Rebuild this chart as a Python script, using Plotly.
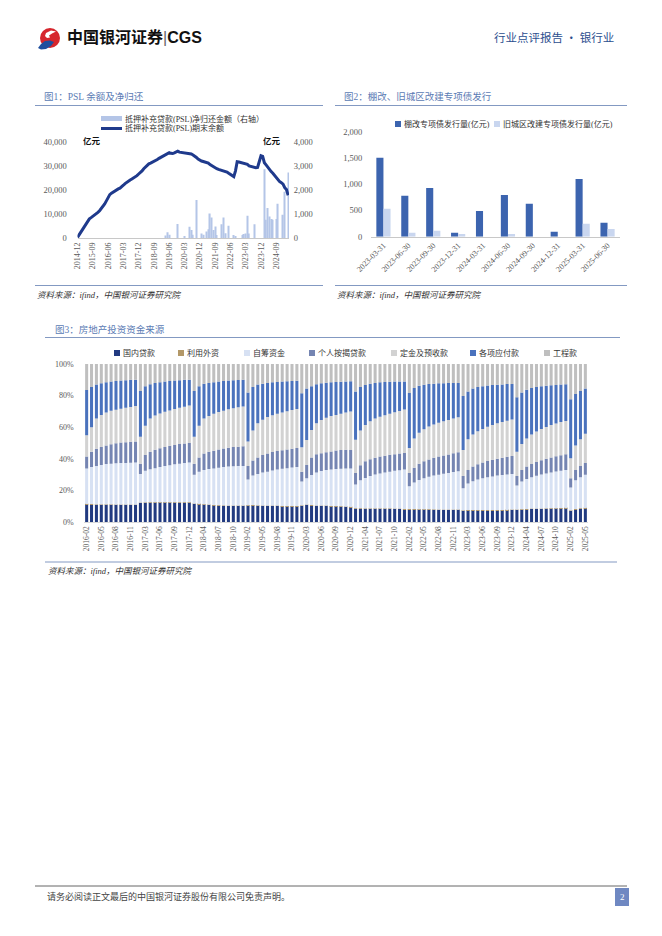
import numpy as np
import plotly.graph_objects as go

W, H = 662, 936
def X(p): return p / W
def Y(p): return 1 - p / H

FONT = "Liberation Serif, Noto Sans CJK SC, serif"
SANS = "Liberation Sans, Noto Sans CJK SC, sans-serif"
GRAY = "#595959"
TITLE_C = "#5B7BB4"
RULE_C = "#8399C2"

# ---------------- Chart 1: PSL ----------------
psl_months = ["2014-12"] + [f"{y}-{m:02d}" for y in range(2015, 2026) for m in range(1, 13)][:124]
psl_balance = [
    400,
    1500, 2700, 3900, 5000, 6200, 7500, 8100, 8600, 9100, 9500, 10000, 10800,
    11500, 12300, 13200, 14300, 15600, 17300, 18200, 18800, 19300, 19700, 20100, 20600,
    20900, 21400, 22100, 22800, 23400, 23900, 24300, 24700, 25100, 25600, 26100, 26800,
    27300, 28100, 29000, 29800, 30500, 31000, 31300, 31600, 32000, 32400, 32800, 33300,
    33700, 34300, 34800, 35200, 35500, 35700, 35400, 35300, 35600, 36100, 36300, 35900,
    35800, 35900, 35800, 35700, 35600, 35400, 35100, 34700, 34300, 33700, 33000, 32400,
    32200, 32000, 31800, 31600, 31300, 30700, 30200, 29800, 29400, 29000, 28700, 28500,
    28400, 28200, 28000, 27600, 27100, 26700, 26200, 25700, 28100, 31900, 31800, 31600,
    31500, 31400, 31300, 30800, 30200, 30000, 29700, 29500, 29400, 29500, 31600, 34400,
    34100, 31500, 30600, 29500, 28600, 27800, 27100, 26200, 25300, 24000, 23600, 23200,
    22600, 21100, 20300, 17900,
]
psl_repay_months = [
    "2019-04", "2019-05", "2019-06", "2019-11", "2020-03", "2020-06", "2020-07", "2020-08",
    "2020-10", "2021-01", "2021-02", "2021-04", "2021-05", "2021-06", "2021-07", "2021-08",
    "2021-09", "2021-10", "2022-01", "2022-02", "2022-03", "2022-05", "2022-08", "2022-09",
    "2023-01", "2023-02", "2023-03", "2023-04", "2023-05", "2023-08", "2024-02", "2024-03",
    "2024-04", "2024-05", "2024-06", "2024-07", "2024-09", "2024-10", "2025-01", "2025-02",
    "2025-04",
]
psl_repay_values = [
    120, 250, 150, 600, 100, 480, 350, 150,
    1600, 200, 150, 280, 380, 1030, 870, 350,
    490, 140, 590, 870, 210, 520, 140, 100,
    140, 180, 200, 940, 200, 590, 2880, 770,
    1260, 910, 800, 770, 800, 1440, 980, 1940,
    2740,
]
psl_ticks = psl_months[::9]

# ---------------- Chart 2: special bonds ----------------
quarters = ["2023-03-31", "2023-06-30", "2023-09-30", "2023-12-31", "2024-03-31",
            "2024-06-30", "2024-09-30", "2024-12-31", "2025-03-31", "2025-06-30"]
penggai = [1505, 781, 927, 76, 489, 794, 629, 95, 1098, 267]
jiucheng = [533, 76, 114, 50, 0, 50, 0, 0, 248, 146]

# ---------------- Chart 3: funding sources (share, %) ----------------
months3 = [f"{y}-{m:02d}" for y in range(2016, 2025) for m in range(2, 13)] + \
          ["2025-02", "2025-03", "2025-04", "2025-05"]
domestic_loans = [
    11.5, 11.5, 11.2, 11.2, 11.1, 11.1, 11.0, 11.0, 11.0, 11.0, 11.0,
    12.3, 12.4, 12.5, 12.5, 12.6, 12.6, 12.6, 12.6, 12.6, 12.6, 12.6,
    11.6, 11.5, 11.3, 11.0, 10.8, 10.6, 10.5, 10.4, 10.3, 10.3, 10.3,
    10.6, 10.8, 10.5, 10.4, 10.3, 10.3, 10.3, 10.2, 10.2, 10.2, 10.2,
    10.5, 11.0, 10.8, 10.4, 10.3, 10.3, 10.2, 10.2, 10.0, 9.8, 9.6,
    8.8, 8.7, 8.6, 8.6, 8.6, 8.6, 8.6, 8.6, 8.5, 8.4, 8.3,
    8.3, 8.3, 8.2, 8.2, 8.1, 8.0, 7.9, 7.8, 7.8, 7.8, 7.9,
    7.3, 7.6, 7.6, 7.6, 7.6, 7.6, 7.6, 7.6, 7.6, 7.7, 7.8,
    7.8, 8.1, 8.3, 8.4, 8.5, 8.5, 8.6, 8.7, 8.8, 8.9, 9.0,
    7.4, 8.3, 8.7, 9.0,
]
foreign_capital = [
    0.1, 0.1, 0.1, 0.1, 0.1, 0.1, 0.1, 0.1, 0.1, 0.1, 0.1,
    0.1, 0.1, 0.1, 0.1, 0.1, 0.1, 0.1, 0.1, 0.1, 0.1, 0.1,
    0.1, 0.1, 0.1, 0.1, 0.1, 0.1, 0.1, 0.1, 0.1, 0.1, 0.1,
    0.1, 0.1, 0.1, 0.1, 0.1, 0.1, 0.1, 0.1, 0.1, 0.1, 0.1,
    0.1, 0.1, 0.1, 0.1, 0.1, 0.1, 0.1, 0.1, 0.1, 0.1, 0.1,
    0.1, 0.1, 0.1, 0.1, 0.1, 0.1, 0.1, 0.1, 0.1, 0.1, 0.1,
    0.1, 0.1, 0.1, 0.1, 0.1, 0.1, 0.1, 0.1, 0.1, 0.1, 0.1,
    0.1, 0.1, 0.1, 0.1, 0.1, 0.1, 0.1, 0.1, 0.1, 0.1, 0.1,
    0.1, 0.1, 0.1, 0.1, 0.1, 0.1, 0.1, 0.1, 0.1, 0.1, 0.1,
    0.1, 0.1, 0.1, 0.1,
]
self_raised = [
    22.4, 23.4, 24.2, 24.9, 25.6, 25.8, 26.2, 26.4, 26.4, 26.5, 26.7,
    18.1, 20.0, 20.9, 21.6, 22.3, 22.9, 23.4, 23.9, 24.3, 24.7, 25.1,
    18.3, 20.4, 21.6, 22.5, 23.1, 23.8, 24.3, 24.7, 25.0, 25.1, 25.2,
    16.3, 18.6, 19.9, 21.0, 21.6, 22.4, 23.0, 23.5, 23.9, 24.3, 24.7,
    15.1, 16.7, 19.0, 20.9, 22.0, 22.6, 23.1, 23.4, 23.8, 24.1, 24.3,
    14.9, 17.7, 19.3, 20.5, 21.5, 22.2, 22.8, 23.3, 23.9, 24.4, 24.9,
    14.3, 16.8, 18.5, 19.5, 20.5, 21.4, 22.1, 22.7, 23.3, 23.8, 24.2,
    14.1, 16.8, 18.3, 19.3, 20.1, 20.8, 21.3, 21.8, 22.2, 22.4, 22.6,
    15.3, 17.6, 18.9, 19.9, 20.8, 21.6, 22.2, 22.7, 23.2, 23.6, 24.0,
    14.5, 18.1, 19.7, 20.9,
]
mortgage_loans = [
    7.5, 9.5, 11.0, 11.3, 11.7, 12.3, 12.7, 12.9, 13.1, 13.3, 13.2,
    6.5, 10.0, 11.0, 11.6, 11.8, 12.0, 12.2, 12.3, 12.4, 12.4, 12.3,
    7.0, 9.0, 10.5, 10.9, 11.2, 11.5, 11.7, 11.9, 12.1, 12.2, 12.4,
    8.5, 9.5, 10.5, 11.0, 11.5, 11.6, 11.6, 11.7, 11.8, 11.9, 12.0,
    6.3, 8.4, 11.1, 11.6, 11.2, 11.2, 11.4, 11.6, 11.7, 11.8, 11.6,
    7.4, 9.5, 10.5, 10.6, 10.6, 10.6, 10.6, 10.6, 10.5, 10.5, 10.5,
    8.5, 9.3, 10.2, 10.7, 11.0, 11.2, 11.4, 11.6, 11.7, 11.9, 12.0,
    7.8, 8.5, 9.3, 9.7, 10.0, 10.2, 10.5, 10.7, 10.9, 11.2, 11.4,
    6.1, 7.2, 7.9, 8.4, 8.7, 9.0, 9.2, 9.4, 9.6, 9.8, 9.9,
    5.8, 6.5, 7.0, 7.5,
]
deposits_advances = [
    13.5, 15.5, 19.0, 20.3, 20.8, 21.1, 21.1, 21.4, 21.8, 22.0, 22.5,
    17.0, 18.5, 21.0, 21.7, 22.0, 22.2, 22.4, 22.6, 22.9, 23.2, 23.7,
    17.0, 20.0, 22.0, 22.7, 23.4, 23.6, 23.9, 24.3, 24.5, 24.9, 25.2,
    15.5, 19.0, 21.5, 22.3, 23.0, 23.2, 23.6, 23.9, 24.1, 24.4, 24.6,
    15.4, 15.8, 17.3, 19.5, 21.0, 21.8, 22.4, 22.5, 23.0, 23.5, 24.4,
    21.0, 22.0, 23.0, 24.0, 24.7, 25.1, 25.5, 26.0, 26.5, 26.9, 27.4,
    15.7, 18.5, 19.5, 20.3, 20.8, 21.1, 21.4, 21.6, 21.8, 21.9, 22.1,
    16.4, 19.5, 20.2, 20.8, 21.2, 21.6, 22.0, 22.3, 22.6, 22.8, 23.1,
    15.2, 16.5, 17.8, 18.7, 19.3, 19.7, 20.1, 20.5, 20.7, 20.9, 21.0,
    12.6, 15.5, 17.0, 18.5,
]
payables = [
    28.5, 25.5, 21.5, 20.0, 19.1, 18.5, 18.2, 17.7, 17.4, 17.1, 16.6,
    29.0, 25.0, 21.7, 20.5, 19.7, 19.2, 18.6, 18.1, 17.5, 17.0, 16.3,
    29.0, 25.0, 22.0, 20.8, 19.9, 19.3, 18.7, 18.1, 17.7, 17.3, 16.8,
    31.0, 27.5, 24.5, 22.7, 21.5, 20.8, 20.0, 19.5, 19.0, 18.4, 17.8,
    34.1, 32.6, 27.7, 24.7, 23.2, 22.2, 21.2, 20.8, 20.2, 19.7, 19.1,
    30.5, 27.5, 25.3, 23.7, 22.5, 21.8, 21.0, 20.2, 19.4, 18.7, 17.8,
    34.8, 31.8, 29.7, 28.1, 26.8, 25.8, 24.9, 24.1, 23.3, 22.5, 21.7,
    34.1, 30.2, 29.0, 28.0, 27.0, 26.1, 25.2, 24.4, 23.7, 23.1, 22.4,
    34.5, 32.5, 30.8, 29.3, 28.0, 27.0, 26.1, 25.2, 24.4, 23.7, 23.2,
    37.3, 32.5, 30.5, 28.5,
]
project_payments = [
    16.5, 14.5, 13.0, 12.2, 11.6, 11.1, 10.7, 10.5, 10.2, 10.0, 9.9,
    17.0, 14.0, 12.8, 12.0, 11.5, 11.0, 10.7, 10.4, 10.2, 10.0, 9.9,
    17.0, 14.0, 12.5, 12.0, 11.5, 11.1, 10.8, 10.5, 10.3, 10.1, 10.0,
    18.0, 14.5, 13.0, 12.5, 12.0, 11.6, 11.4, 11.1, 10.9, 10.7, 10.6,
    18.5, 15.4, 14.0, 12.8, 12.2, 11.8, 11.6, 11.4, 11.2, 11.0, 10.9,
    17.3, 14.5, 13.2, 12.5, 12.0, 11.6, 11.4, 11.2, 11.1, 11.0, 11.0,
    18.3, 15.2, 13.8, 13.1, 12.7, 12.4, 12.2, 12.1, 12.0, 12.0, 12.0,
    20.2, 17.3, 15.5, 14.5, 14.0, 13.6, 13.3, 13.1, 12.9, 12.7, 12.6,
    21.0, 18.0, 16.2, 15.2, 14.6, 14.1, 13.7, 13.4, 13.2, 13.0, 12.8,
    22.3, 19.0, 17.0, 15.5,
]
series3_names = ["国内贷款", "利用外资", "自筹资金", "个人按揭贷款", "定金及预收款", "各项应付款", "工程款"]
series3_values = [domestic_loans, foreign_capital, self_raised, mortgage_loans,
                  deposits_advances, payables, project_payments]
series3_colors = ["#213A80", "#B39868", "#D7E1F3", "#7585B2", "#D2D2D2", "#4A72BD", "#BFBFBF"]
months3_ticks = months3[::3]

# ---------------- Figure ----------------
fig = go.Figure()

fig.add_trace(go.Bar(x=psl_repay_months, y=psl_repay_values,
                     name="抵押补充贷款(PSL)净归还金额（右轴）",
                     marker=dict(color="#B4C5E7", line=dict(width=0)), width=0.7,
                     xaxis="x", yaxis="y", showlegend=False))
fig.add_trace(go.Scatter(x=psl_months, y=psl_balance, mode="lines",
                         name="抵押补充贷款(PSL)期末余额",
                         line=dict(color="#1F3A8C", width=3),
                         xaxis="x", yaxis="y2", showlegend=False))

fig.add_trace(go.Bar(x=quarters, y=penggai, name="棚改专项债发行量(亿元)",
                     marker=dict(color="#3C64AF", line=dict(width=0)),
                     xaxis="x3", yaxis="y3", showlegend=False))
fig.add_trace(go.Bar(x=quarters, y=jiucheng, name="旧城区改建专项债发行量(亿元)",
                     marker=dict(color="#C9D6EF", line=dict(width=0)),
                     xaxis="x3", yaxis="y3", showlegend=False))

base = np.zeros(len(months3))
for nm, vals, col in zip(series3_names, series3_values, series3_colors):
    v = np.array(vals, dtype=float)
    fig.add_trace(go.Bar(x=months3, y=v, base=base.copy(), width=0.62, offset=-0.31,
                         name=nm, marker=dict(color=col, line=dict(width=0)),
                         xaxis="x4", yaxis="y4", showlegend=False))
    base = base + v

tick_font = dict(family=FONT, size=8.5, color=GRAY)
common = dict(showgrid=False, zeroline=False, automargin=False, fixedrange=True)
fig.update_layout(
    template="none",
    width=W, height=H, margin=dict(l=0, r=0, t=0, b=0, pad=0, autoexpand=False),
    paper_bgcolor="white", plot_bgcolor="white",
    barmode="group", bargap=0.43, bargroupgap=0,
    showlegend=False,
    font=dict(family=FONT, size=9, color="#333"),
    xaxis=dict(domain=[X(77.5), X(289)], type="category", categoryorder="array",
               categoryarray=psl_months, tickmode="array", tickvals=psl_ticks,
               ticktext=psl_ticks, tickangle=-90, tickfont=dict(family=FONT, size=8, color=GRAY),
               showline=True, linecolor="#C8C8C8", linewidth=1,
               ticks="", anchor="y", **common),
    yaxis=dict(domain=[Y(238.3), Y(142.3)], range=[0, 4000], dtick=1000, tickformat=",",
               side="right", showline=False,
               ticks="outside", ticklen=2, tickcolor="rgba(0,0,0,0)",
               tickfont=tick_font, anchor="x", **common),
    yaxis2=dict(range=[0, 40000], dtick=10000, tickformat=",", side="left",
                overlaying="y", showline=False,
                ticks="outside", ticklen=8, tickcolor="rgba(0,0,0,0)",
                tickfont=tick_font, anchor="x", **common),
    xaxis3=dict(domain=[X(371), X(620)], type="category", tickangle=-45,
                tickfont=dict(family=FONT, size=8, color=GRAY), showline=True,
                linecolor="#C8C8C8", linewidth=1,
                ticks="", anchor="y3", **common),
    yaxis3=dict(domain=[Y(236.7), Y(131.7)], range=[0, 2000], dtick=500, tickformat=",",
                showline=False, ticks="outside", ticklen=6,
                tickcolor="rgba(0,0,0,0)", tickfont=tick_font, anchor="x3", **common),
    xaxis4=dict(domain=[X(84.2), X(587.8)], type="category", categoryorder="array",
                categoryarray=months3, tickmode="array", tickvals=months3_ticks,
                ticktext=months3_ticks, tickangle=-90,
                tickfont=dict(family=FONT, size=7.5, color=GRAY), showline=True,
                linecolor="#D9D9D9", linewidth=1,
                ticks="", anchor="y4", **common),
    yaxis4=dict(domain=[Y(522.3), Y(364)], range=[0, 100], dtick=20, ticksuffix="%",
                showline=False, ticks="outside", ticklen=8,
                tickcolor="rgba(0,0,0,0)", tickfont=dict(family=FONT, size=8, color=GRAY),
                anchor="x4", **common),
)

ann = []
def txt(x, y, s, size, color="#333", xanchor="left", family=FONT):
    ann.append(dict(x=X(x), y=Y(y), xref="paper", yref="paper", text=s, showarrow=False,
                    xanchor=xanchor, yanchor="middle", font=dict(family=family, size=size, color=color)))

# header
txt(65, 37, "<b>中国银河证券</b><span style='color:#666'>|</span><b>CGS</b>", 16, "#111", family=SANS)
txt(616, 37, "行业点评报告 · 银行业", 11.5, "#2B4E8E", xanchor="right", family="Noto Sans CJK SC")
# titles
txt(42, 97, "图1：PSL 余额及净归还", 9.5, TITLE_C)
txt(342, 97, "图2：棚改、旧城区改建专项债发行", 9.5, TITLE_C)
txt(53, 329, "图3：房地产投资资金来源", 9.5, TITLE_C)
# sources
for sx, sy in [(35, 294.5), (335, 294.5), (46, 571)]:
    txt(sx, sy, "<i>资料来源：ifind，中国银河证券研究院</i>", 8.5, "#333")
# chart 1 legend + units
txt(123, 118.5, "抵押补充贷款(PSL)净归还金额（右轴）", 8, "#333")
txt(123, 128.5, "抵押补充贷款(PSL)期末余额", 8, "#333")
txt(81, 141, "<b>亿元</b>", 8.5, "#111")
txt(261, 141, "<b>亿元</b>", 8.5, "#111")
# chart 2 legend
txt(402, 124, "棚改专项债发行量(亿元)", 8, "#333")
txt(501, 124, "旧城区改建专项债发行量(亿元)", 8, "#333")
# chart 3 legend
leg3_x = [115, 179, 245, 310, 392, 471, 545]
for lx, nm in zip(leg3_x, series3_names):
    txt(lx + 6, 353, nm, 8, "#333")
# footer
txt(45, 896, "请务必阅读正文最后的中国银河证券股份有限公司免责声明。", 9, "#444")
txt(622, 897, "2", 9, "white", xanchor="center")

shapes = []
def hline(x0, x1, y, color=RULE_C, width=1):
    shapes.append(dict(type="line", xref="paper", yref="paper", x0=X(x0), x1=X(x1),
                       y0=Y(y), y1=Y(y), line=dict(color=color, width=width)))
def rect(x0, y0, x1, y1, color):
    shapes.append(dict(type="rect", xref="paper", yref="paper", x0=X(x0), x1=X(x1),
                       y0=Y(y1), y1=Y(y0), fillcolor=color, line=dict(width=0)))
def path(pts, fill, close=True):
    d = "M" + " L".join(f"{X(a):.5f},{Y(b):.5f}" for a, b in pts) + (" Z" if close else "")
    shapes.append(dict(type="path", xref="paper", yref="paper", path=d,
                       fillcolor=fill, line=dict(width=0)))

hline(35, 323, 105.5)
hline(335, 627, 105.5)
hline(45, 620, 337.5)
hline(35, 323, 285.5)
hline(335, 627, 285.5)
hline(45, 617, 562)
hline(35, 627, 886, "#404040", 0.8)
rect(615, 888, 629, 906, "#6F88C2")

# legend markers
rect(101, 116, 122, 121, "#B4C5E7")
hline(101, 122, 128.5, "#1F3A8C", 3)
rect(395, 121, 401, 127, "#3C64AF")
rect(494, 121, 500, 127, "#C9D6EF")
for lx, col in zip(leg3_x, series3_colors):
    rect(lx - 1, 350, lx + 5, 356, col)

# logo (approximation)
shapes.append(dict(type="circle", xref="paper", yref="paper", x0=X(40), x1=X(60),
                   y0=Y(48), y1=Y(28), fillcolor="#D6262D", line=dict(width=0)))
path([(41, 44), (45, 41), (50, 40.5), (54, 42), (51, 46), (46, 49), (41, 49.5), (38, 48)], "#1F4E9E")
path([(46, 33), (51, 30.5), (56, 31.5), (52, 33.5), (49, 35.5), (50, 37.5), (47, 38), (45, 36)], "white")

fig.update_layout(annotations=ann, shapes=shapes)
fig.write_html("out.html", config={"displayModeBar": False},
               post_script="document.body.style.margin='0';document.body.style.overflow='hidden';")
